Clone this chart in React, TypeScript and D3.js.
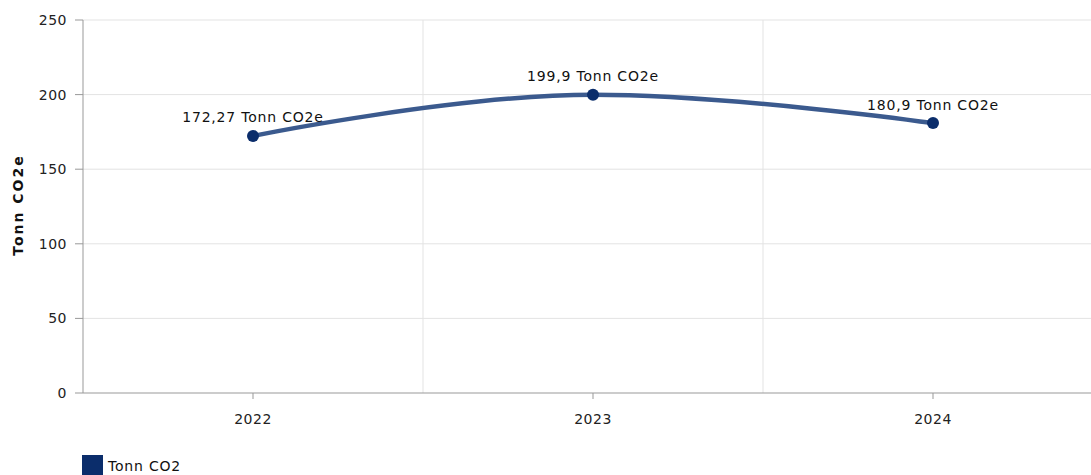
import React from "react";
import * as d3 from "d3";

const categories = ["2022", "2023", "2024"];
const values = [172.27, 199.9, 180.9];
const valueLabels = ["172,27 Tonn CO2e", "199,9 Tonn CO2e", "180,9 Tonn CO2e"];
const yTicks = [0, 50, 100, 150, 200, 250];
const seriesName = "Tonn CO2";
const yTitle = "Tonn CO2e";

const W = 1091;
const H = 475;
const FONT = "'DejaVu Sans', Verdana, sans-serif";

// Spline path in the style of a smoothed line chart (control points from neighbours)
function splinePath(pts: [number, number][]): string {
  const sm = 1.5;
  const n = pts.length;
  const lc: ([number, number] | null)[] = new Array(n).fill(null);
  const rc: ([number, number] | null)[] = new Array(n).fill(null);
  for (let i = 1; i < n - 1; i++) {
    const [px, py] = pts[i];
    const [lx, ly] = pts[i - 1];
    const [nx, ny] = pts[i + 1];
    let lcx = (sm * px + lx) / (sm + 1);
    let lcy = (sm * py + ly) / (sm + 1);
    let rcx = (sm * px + nx) / (sm + 1);
    let rcy = (sm * py + ny) / (sm + 1);
    if (rcx !== lcx) {
      const corr = ((rcy - lcy) * (rcx - px)) / (rcx - lcx) + py - rcy;
      lcy += corr;
      rcy += corr;
    }
    if (lcy > Math.max(ly, py)) {
      lcy = Math.max(ly, py);
      rcy = 2 * py - lcy;
    } else if (lcy < Math.min(ly, py)) {
      lcy = Math.min(ly, py);
      rcy = 2 * py - lcy;
    }
    if (rcy > Math.max(py, ny)) {
      rcy = Math.max(py, ny);
      lcy = 2 * py - rcy;
    } else if (rcy < Math.min(py, ny)) {
      rcy = Math.min(py, ny);
      lcy = 2 * py - rcy;
    }
    lc[i] = [lcx, lcy];
    rc[i] = [rcx, rcy];
  }
  const p = d3.path();
  p.moveTo(pts[0][0], pts[0][1]);
  for (let i = 1; i < n; i++) {
    const a = rc[i - 1] || pts[i - 1];
    const b = lc[i] || pts[i];
    p.bezierCurveTo(a[0], a[1], b[0], b[1], pts[i][0], pts[i][1]);
  }
  return p.toString();
}

export default function App() {
  const left = 83;
  const top = 20;
  const bottom = 393;
  const x = d3.scaleBand<string>().domain(categories).range([left, left + 1020]);
  const y = d3.scaleLinear().domain([0, 250]).range([bottom, top]);
  const cx = (c: string) => (x(c) as number) + x.bandwidth() / 2;
  const pts: [number, number][] = categories.map((c, i) => [cx(c), y(values[i])]);
  const line = splinePath(pts);
  const boundaries = categories.slice(1).map((c) => x(c) as number);

  return (
    <svg width={W} height={H} style={{ position: "absolute", left: 0, top: 0, background: "#fff" }}>
      {yTicks.map((t) => (
        <g key={t}>
          {t > 0 && <line x1={left} x2={W} y1={y(t)} y2={y(t)} stroke="#e3e3e3" />}
          <line x1={left - 8} x2={left} y1={y(t)} y2={y(t)} stroke="#999" />
          <text x={left - 16} y={y(t)} dy="0.35em" textAnchor="end" fontFamily={FONT} fontSize={14} letterSpacing={0.5} fill="#222">
            {t}
          </text>
        </g>
      ))}
      {boundaries.map((b, i) => (
        <line key={i} x1={b} x2={b} y1={top} y2={bottom} stroke="#e3e3e3" />
      ))}
      <line x1={left} x2={left} y1={top} y2={bottom} stroke="#999" />
      <line x1={left} x2={W} y1={bottom} y2={bottom} stroke="#999" />
      {categories.map((c) => (
        <g key={c}>
          <line x1={cx(c)} x2={cx(c)} y1={bottom} y2={bottom + 6} stroke="#999" />
          <text x={cx(c)} y={bottom + 26} dy="0.35em" textAnchor="middle" fontFamily={FONT} fontSize={14} letterSpacing={0.5} fill="#222">
            {c}
          </text>
        </g>
      ))}
      <text
        transform={`translate(18,${205}) rotate(-90)`}
        textAnchor="middle"
        dy="0.35em"
        fontFamily={FONT}
        fontSize={14}
        fontWeight="bold"
        letterSpacing={2}
        fill="#111"
      >
        {yTitle}
      </text>
      <path d={line} fill="none" stroke="#3b5a8e" strokeWidth={4.5} />
      {pts.map((p, i) => (
        <g key={i}>
          <circle cx={p[0]} cy={p[1]} r={6} fill="#0b2d6b" />
          <text x={p[0]} y={p[1] - 13.5} textAnchor="middle" fontFamily={FONT} fontSize={14} letterSpacing={0.8} fill="#111">
            {valueLabels[i]}
          </text>
        </g>
      ))}
      <rect x={82} y={455} width={21} height={21} fill="#0b2d6b" />
      <text x={108} y={466} dy="0.35em" fontFamily={FONT} fontSize={14} letterSpacing={0.8} fill="#111">
        {seriesName}
      </text>
    </svg>
  );
}
